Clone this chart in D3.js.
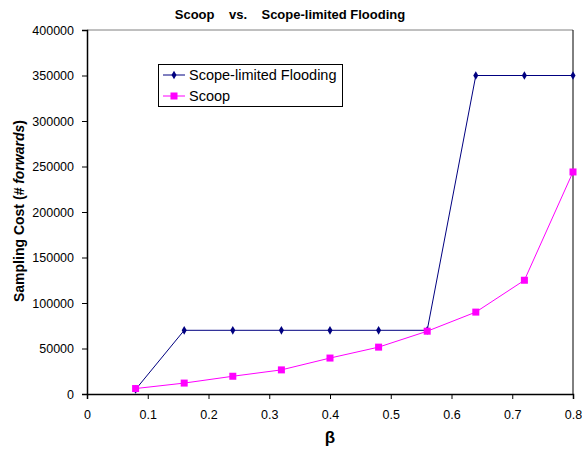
<!DOCTYPE html>
<html>
<head>
<meta charset="utf-8">
<script src="https://cdn.jsdelivr.net/npm/d3@7"></script>
<style>
  body { margin: 0; background: #fff; }
  svg text { font-family: "Liberation Sans", Arial, sans-serif; fill: #000; }
</style>
</head>
<body>
<svg id="chart" width="582" height="450"></svg>
<script>
// Chart data
const betaValues = [0.08, 0.16, 0.24, 0.32, 0.4, 0.48, 0.56, 0.64, 0.72, 0.8];
const floodingCost = [5000, 70000, 70000, 70000, 70000, 70000, 70000, 350000, 350000, 350000];
const scoopCost = [6000, 12000, 19500, 26500, 39500, 51500, 69000, 90000, 125000, 244000];
const xTicks = [0, 0.1, 0.2, 0.3, 0.4, 0.5, 0.6, 0.7, 0.8];
const yTicks = [0, 50000, 100000, 150000, 200000, 250000, 300000, 350000, 400000];

// Layout
const margin = { top: 30, right: 9, bottom: 56, left: 87 };
const width = 582 - margin.left - margin.right;
const height = 450 - margin.top - margin.bottom;

const svg = d3.select('#chart');
const g = svg.append('g')
  .attr('transform', `translate(${margin.left},${margin.top})`);

const x = d3.scaleLinear().domain([0, 0.8]).range([0, width]);
const y = d3.scaleLinear().domain([0, 400000]).range([height, 0]);

// plot frame: gray top, black right
g.append('line')
  .attr('x1', 0).attr('x2', width).attr('y1', 0).attr('y2', 0)
  .attr('stroke', '#808080').attr('stroke-width', 1);
g.append('line')
  .attr('x1', width).attr('x2', width).attr('y1', 0).attr('y2', height)
  .attr('stroke', '#000').attr('stroke-width', 1);

// Axes
const xAxis = g.append('g')
  .attr('transform', `translate(0,${height})`)
  .call(d3.axisBottom(x).tickValues(xTicks).tickSize(5).tickPadding(11)
    .tickFormat(d3.format('')));
const yAxis = g.append('g')
  .call(d3.axisLeft(y).tickValues(yTicks).tickSize(5).tickPadding(8)
    .tickFormat(d3.format('d')));

[xAxis, yAxis].forEach((ax) => {
  ax.select('.domain').attr('stroke', '#000').attr('stroke-width', 1.5);
  ax.selectAll('.tick line').attr('stroke', '#000');
  ax.selectAll('.tick text')
    .attr('font-size', 12.5)
    .attr('font-family', '"Liberation Sans", Arial, sans-serif')
    .attr('fill', '#000');
});

// Lines
const line = d3.line()
  .x((d) => x(d[0]))
  .y((d) => y(d[1]));

const floodingData = betaValues.map((b, i) => [b, floodingCost[i]]);
const scoopData = betaValues.map((b, i) => [b, scoopCost[i]]);

g.append('path')
  .datum(floodingData)
  .attr('fill', 'none')
  .attr('stroke', '#000080')
  .attr('stroke-width', 1)
  .attr('d', line);

g.append('path')
  .datum(scoopData)
  .attr('fill', 'none')
  .attr('stroke', '#ff00ff')
  .attr('stroke-width', 1)
  .attr('d', line);

const diamond = d3.symbol().type(d3.symbolDiamond).size(22);
g.selectAll('.flood-pt')
  .data(floodingData)
  .join('path')
  .attr('class', 'flood-pt')
  .attr('transform', (d) => `translate(${x(d[0])},${y(d[1])})`)
  .attr('d', diamond)
  .attr('fill', '#000080');

g.selectAll('.scoop-pt')
  .data(scoopData)
  .join('rect')
  .attr('class', 'scoop-pt')
  .attr('x', (d) => x(d[0]) - 3.5)
  .attr('y', (d) => y(d[1]) - 3.5)
  .attr('width', 7)
  .attr('height', 7)
  .attr('fill', '#ff00ff');

// Legend
const legend = svg.append('g').attr('transform', 'translate(158,64)');
legend.append('rect')
  .attr('x', 0.5).attr('y', 0.5)
  .attr('width', 184).attr('height', 42)
  .attr('fill', '#fff').attr('stroke', '#000').attr('stroke-width', 1);

const legendItems = [
  { label: 'Scope-limited Flooding', color: '#000080', marker: 'diamond' },
  { label: 'Scoop', color: '#ff00ff', marker: 'square' },
];
legendItems.forEach((item, i) => {
  const ly = 11 + i * 21;
  legend.append('line')
    .attr('x1', 5).attr('x2', 27).attr('y1', ly).attr('y2', ly)
    .attr('stroke', item.color).attr('stroke-width', 1);
  if (item.marker === 'diamond') {
    legend.append('path')
      .attr('transform', `translate(16,${ly})`)
      .attr('d', diamond)
      .attr('fill', item.color);
  } else {
    legend.append('rect')
      .attr('x', 12.5).attr('y', ly - 3.5).attr('width', 7).attr('height', 7)
      .attr('fill', item.color);
  }
  legend.append('text')
    .attr('x', 31).attr('y', ly + 5)
    .attr('font-size', 14.5)
    .text(item.label);
});

// Title
svg.append('text')
  .attr('x', 290).attr('y', 19)
  .attr('text-anchor', 'middle')
  .attr('font-size', 13)
  .attr('font-weight', 'bold')
  .attr('xml:space', 'preserve')
  .style('white-space', 'pre')
  .text('Scoop    vs.    Scope-limited Flooding');

// Y axis title
const yTitle = svg.append('text')
  .attr('transform', `translate(24,${margin.top + height / 2 - 1}) rotate(-90)`)
  .attr('text-anchor', 'middle')
  .attr('font-size', 14)
  .attr('font-weight', 'bold');
yTitle.append('tspan').text('Sampling Cost (');
yTitle.append('tspan').attr('font-style', 'italic').text('# forwards');
yTitle.append('tspan').text(')');

// X axis title
svg.append('text')
  .attr('x', margin.left + width / 2).attr('y', 443)
  .attr('text-anchor', 'middle')
  .attr('font-size', 17)
  .attr('font-weight', 'bold')
  .text('β');
</script>
</body>
</html>
